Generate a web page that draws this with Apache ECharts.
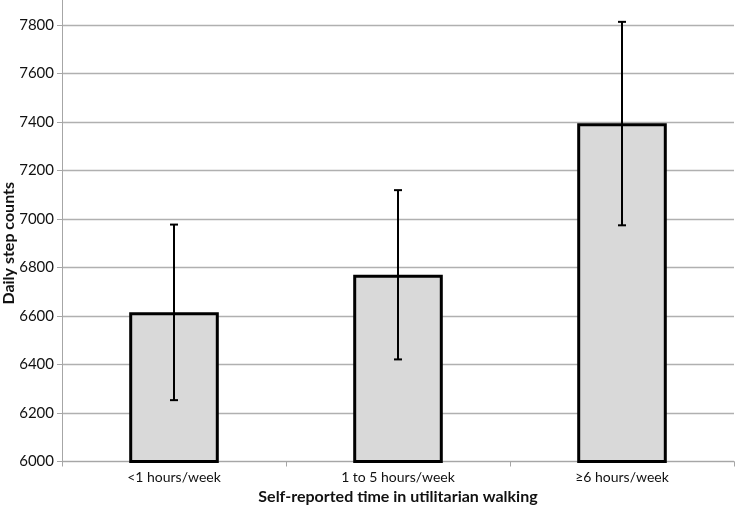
<!DOCTYPE html>
<html><head><meta charset="utf-8">
<script src="https://cdn.jsdelivr.net/npm/echarts@6/dist/echarts.min.js"></script>
<style>html,body{margin:0;padding:0;background:#fff}#c{width:737px;height:513px}</style>
</head><body><div id="c"></div>
<script>
const categories = ['<1 hours/week', '1 to 5 hours/week', '≥6 hours/week'];
const means = [6615, 6770, 7395];
const errLow = [6253, 6421, 6974];
const errHigh = [6977, 7119, 7813];
const yTicks = { min: 6000, max: 7800, interval: 200 };

const chart = echarts.init(document.getElementById('c'));
const font = 'Lato, "Open Sans", sans-serif';
chart.setOption({
  animation: false,
  grid: { left: 62, right: 3, top: 25, bottom: 51.5, containLabel: false, outerBoundsMode: 'none' },
  xAxis: {
    type: 'category', data: categories,
    axisLine: { lineStyle: { color: '#a6a6a6', width: 1 } },
    axisTick: { show: true, length: 5, lineStyle: { color: '#a6a6a6' } },
    axisLabel: { color: '#111', fontSize: 14, fontFamily: font, margin: 9 },
    name: 'Self-reported time in utilitarian walking', nameLocation: 'middle', nameGap: 27, nameMoveOverlap: false,
    nameTextStyle: { fontWeight: 'bold', fontSize: 16, color: '#111', fontFamily: font }
  },
  yAxis: {
    type: 'value', min: yTicks.min, max: yTicks.max, interval: yTicks.interval,
    axisLine: { show: true, lineStyle: { color: '#a6a6a6' } },
    axisTick: { show: true, length: 5, lineStyle: { color: '#a6a6a6' } },
    splitLine: { lineStyle: { color: '#b0b0b0', width: 1.3 } },
    axisLabel: { color: '#111', fontSize: 15, fontFamily: font, margin: 8, formatter: v => String(v) },
    name: 'Daily step counts', nameLocation: 'middle', nameGap: 45, nameMoveOverlap: false,
    nameTextStyle: { fontWeight: 'bold', fontSize: 16, color: '#111', fontFamily: font }
  },
  graphic: [{ type: 'line', shape: { x1: 62.5, y1: 0, x2: 62.5, y2: 25 }, style: { stroke: '#a6a6a6', lineWidth: 1 } }],
  series: [
    {
      type: 'bar', data: means, barWidth: '40%',
      itemStyle: { color: '#d9d9d9', borderColor: '#000', borderWidth: 3 }
    },
    {
      type: 'custom', z: 10,
      data: categories.map((c, i) => [i, errLow[i], errHigh[i]]),
      renderItem: function (params, api) {
        const lo = api.coord([api.value(0), api.value(1)]);
        const hi = api.coord([api.value(0), api.value(2)]);
        const cap = 4;
        const st = { stroke: '#000', lineWidth: 2 };
        return { type: 'group', children: [
          { type: 'line', shape: { x1: hi[0], y1: hi[1], x2: lo[0], y2: lo[1] }, style: st },
          { type: 'line', shape: { x1: hi[0] - cap, y1: hi[1], x2: hi[0] + cap, y2: hi[1] }, style: st },
          { type: 'line', shape: { x1: lo[0] - cap, y1: lo[1], x2: lo[0] + cap, y2: lo[1] }, style: st }
        ]};
      }
    }
  ]
});
</script></body></html>
